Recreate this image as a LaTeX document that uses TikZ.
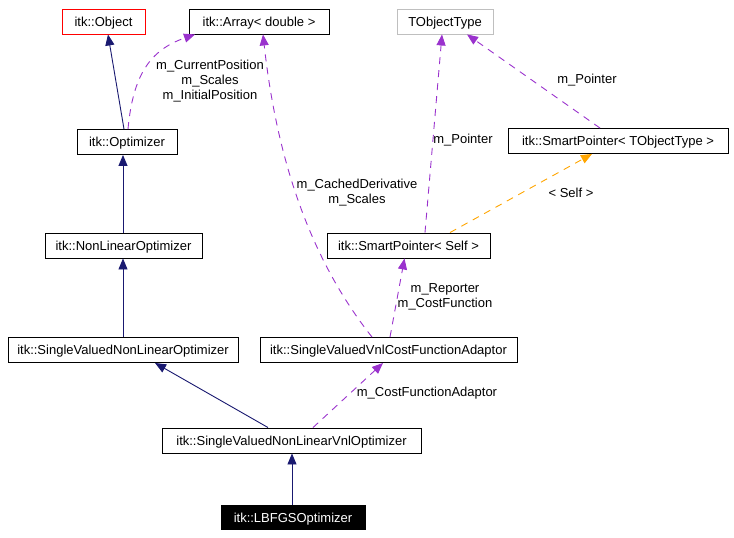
\documentclass[tikz,border=0pt]{standalone}
\usepackage{fontspec}
\setmainfont{Liberation Sans}
\usetikzlibrary{arrows.meta}

\definecolor{navyline}{HTML}{191970}
\definecolor{memberline}{HTML}{9A32CD}
\definecolor{tmplline}{HTML}{FFA500}
\definecolor{greybox}{HTML}{BFBFBF}

\begin{document}
\begin{tikzpicture}[x=1pt,y=-1pt,line width=0.9pt,
    font=\fontsize{13}{15}\selectfont,
    cls/.style={rectangle,draw=black,minimum height=25pt,inner sep=2pt,text height=10.5pt,text depth=1.5pt},
    inherit/.style={navyline,-{Triangle[length=11pt,width=9pt]}},
    member/.style={memberline,dash pattern=on 7pt off 6pt,-{Triangle[length=11pt,width=9pt]}},
    tmpl/.style={tmplline,dash pattern=on 7pt off 6pt,-{Triangle[length=11pt,width=9pt]}},
    lbl/.style={align=center,inner sep=0pt}]

      \useasboundingbox (0,0) rectangle (734,538);

      \node[cls,draw=red,minimum width=83pt] (obj) at (103.5,21.5){itk::Object};
      \node[cls,minimum width=140pt] (arr) at (259,21.5){itk::Array< double >};
      \node[cls,draw=greybox,minimum width=96pt] (tot) at (445,21.5){TObjectType};
      \node[cls,minimum width=220pt] (sptot) at (618,141){itk::SmartPointer< TObjectType >};
      \node[cls,minimum width=100pt] (opt) at (127,142){itk::Optimizer};
      \node[cls,minimum width=157pt] (nlo) at (123.5,245.5){itk::NonLinearOptimizer};
      \node[cls,minimum width=163pt] (spself) at (408.5,245.5){itk::SmartPointer< Self >};
      \node[cls,minimum width=230pt] (svnlo) at (123,350){itk::SingleValuedNonLinearOptimizer};
      \node[cls,minimum width=257pt] (adaptor) at (388.5,350){itk::SingleValuedVnlCostFunctionAdaptor};
      \node[cls,minimum width=259pt] (vnlopt) at (291.5,440.5){itk::SingleValuedNonLinearVnlOptimizer};
      \node[cls,fill=black,text=white,minimum width=144pt,minimum height=24pt] (lbfgs) at (293,517.5){itk::LBFGSOptimizer};

      % inheritance
      \draw[inherit] ([xshift=-3pt]opt.north) -- ([xshift=4.5pt]obj.south);
      \draw[inherit] ([xshift=-0.5pt]nlo.north) -- ([xshift=-4pt]opt.south);
      \draw[inherit] (svnlo.north) -- ([xshift=-0.5pt]nlo.south);
      \draw[inherit] ([xshift=-23.5pt]vnlopt.north) -- ([xshift=32pt]svnlo.south);
      \draw[inherit] ([xshift=-1pt]lbfgs.north) -- ([xshift=0.5pt]vnlopt.south);

      % members
      \draw[member] ([xshift=1pt]opt.north) .. controls (133,75) and (150,50) .. ([xshift=-64pt]arr.south);
      \draw[member] ([xshift=-16.5pt]adaptor.north) .. controls (315,265) and (278,170) .. ([xshift=4pt]arr.south);
      \draw[member] ([xshift=1.5pt]adaptor.north) -- ([xshift=-4pt]spself.south);
      \draw[member] ([xshift=21.5pt]vnlopt.north) -- ([xshift=-5.5pt]adaptor.south);
      \draw[member] ([xshift=16.5pt]spself.north) -- ([xshift=-3pt]tot.south);
      \draw[member] ([xshift=-18pt]sptot.north) -- ([xshift=22pt]tot.south);
      \draw[tmpl] ([xshift=41.5pt]spself.north) -- ([xshift=-26pt]sptot.south);

      \node[lbl] (lpos) at (210,81){m\_CurrentPosition\\m\_Scales\\m\_InitialPosition};
      \node[lbl] (lcache) at (357,193){m\_CachedDerivative\\m\_Scales};
      \node[lbl] (lptra) at (463,140){m\_Pointer};
      \node[lbl] (lptrb) at (587,80){m\_Pointer};
      \node[lbl] (lself) at (571,193){< Self >};
      \node[lbl] (lcost) at (445,297){m\_Reporter\\m\_CostFunction};
      \node[lbl] (ladapt) at (427,393){m\_CostFunctionAdaptor};

    \end{tikzpicture}
\end{document}
